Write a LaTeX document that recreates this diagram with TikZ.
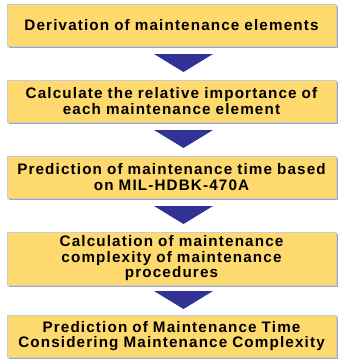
\documentclass[tikz,border=0pt]{standalone}
\usepackage{fontspec}
\newfontfamily\boxfont[LetterSpace=7.5]{Liberation Sans}
\usetikzlibrary{calc,shadows}

\definecolor{boxfill}{RGB}{253,217,110}
\definecolor{boxline}{RGB}{196,206,214}
\definecolor{arrowblue}{RGB}{50,50,150}

\tikzset{
  stepbox/.style={rectangle, fill=boxfill, draw=boxline, line width=0.5pt,
    minimum width=9.87cm, text width=9.7cm, align=center, inner sep=0pt,
    font=\boxfont\bfseries\fontsize{13}{13.2}\selectfont,
    drop shadow={shadow xshift=0.06cm, shadow yshift=-0.06cm, fill=black!35, opacity=1}},
  downtri/.style={fill=arrowblue}
}

\begin{document}
\begin{tikzpicture}[x=0.03cm, y=-0.03cm]
    \useasboundingbox (0,0) rectangle (340,359);
    % the five steps
    \foreach \name/\ycen/\h/\txt in {
        b1/25/42/{Derivation of maintenance elements},
        b2/101/42/{Calculate the relative importance of\\each maintenance element},
        b3/177/42/{Prediction of maintenance time based\\on MIL-HDBK-470A},
        b4/258.5/53/{Calculation of maintenance\\complexity of maintenance\\procedures},
        b5/336/42/{Prediction of Maintenance Time\\Considering Maintenance Complexity}}{
      \node[stepbox, minimum height=\h*0.03cm] (\name) at (171.5,\ycen) {\txt};
    }
    % arrows between steps
    \foreach \a/\b in {b1/b2,b2/b3,b3/b4,b4/b5}{
      \coordinate (m) at ($(\a.south)!0.5!(\b.north)$);
      \fill[downtri] ($(m)+(-17.5,-9)$) -- ($(m)+(41.5,-9)$) -- ($(m)+(12,9)$) -- cycle;
    }
\end{tikzpicture}
\end{document}
